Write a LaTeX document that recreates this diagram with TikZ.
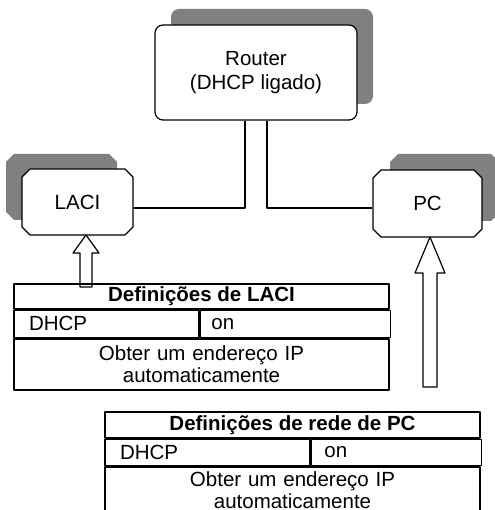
\documentclass[tikz,border=0pt]{standalone}
\usepackage{fontspec}
\setmainfont{Liberation Sans}
\usetikzlibrary{shapes.misc,shadows}

\begin{document}
\begin{tikzpicture}[x=1pt,y=-1pt,line join=round,
  font=\fontsize{20.5}{22}\selectfont,
  box/.style={draw,fill=white,line width=1.2pt,align=center},
  router/.style={box,rounded corners=8pt},
  device/.style={box,chamfered rectangle,chamfered rectangle xsep=4pt,chamfered rectangle ysep=4pt},
  cell/.style={draw,line width=1.4pt,inner ysep=0pt},
  hollow/.style={draw,fill=white,line width=1.2pt},
  wire/.style={line width=1.2pt}]

\useasboundingbox (0,0) rectangle (494,510);

\node[router,minimum width=202pt,minimum height=95pt,
  general shadow={fill=black!50,shadow xshift=16pt,shadow yshift=16pt}]
  (router) at (256,72.5) {Router\\[2pt](DHCP ligado)};
\node[device,minimum width=111pt,minimum height=66pt,
  general shadow={fill=black!50,shadow xshift=-16pt,shadow yshift=15pt}]
  (laci) at (77.5,202) {LACI};
\node[device,minimum width=109pt,minimum height=67pt,
  general shadow={fill=black!50,shadow xshift=17pt,shadow yshift=16pt}]
  (pc) at (427.5,203.5) {PC};

% cabos
\coordinate (lbend) at (245,208);
\coordinate (rbend) at (267,208);
\draw[wire] (router.south -| lbend) -- (lbend) -- (laci.east |- lbend);
\draw[wire] (router.south -| rbend) -- (rbend) -- (pc.west |- rbend);

% setas
\coordinate (ltip) at (86,235);
\coordinate (ptip) at (430,237);
\draw[hollow] (ltip) -- ++(13,18) -- ++(-7,0) -- ++(0,34) -- ++(-12,0)
  -- ++(0,-34) -- ++(-7,0) -- cycle;
\draw[hollow] (ptip) -- ++(15,36) -- ++(-8,0) -- ++(0,114) -- ++(-14,0)
  -- ++(0,-114) -- ++(-8,0) -- cycle;

% definicoes de LACI
\node[cell,minimum width=375pt,minimum height=25pt] (lacihead) at (201.5,296.5)
  {\bfseries Definições de LACI};
\node[cell,anchor=north west,minimum height=27pt,text width=155pt,inner xsep=15pt]
  (lacikey) at (lacihead.south west) {DHCP};
\node[cell,anchor=north west,minimum height=27pt,text width=168pt,inner xsep=11pt]
  (lacival) at (lacikey.north east) {on};
\node[cell,anchor=north west,minimum height=51pt,text width=355pt,inner xsep=10pt,align=center]
  (laciip) at (lacikey.south west) {Obter um endereço IP\\automaticamente};

% definicoes de rede de PC
\node[cell,minimum width=375pt,minimum height=26pt] (pchead) at (292.5,425)
  {\bfseries Definições de rede de PC};
\node[cell,anchor=north west,minimum height=26pt,text width=175pt,inner xsep=15pt]
  (pckey) at (pchead.south west) {DHCP};
\node[cell,anchor=north west,minimum height=26pt,text width=144pt,inner xsep=13pt]
  (pcval) at (pckey.north east) {on};
\node[cell,anchor=north west,minimum height=46pt,text width=355pt,inner xsep=10pt,align=center]
  (pcip) at (pckey.south west) {Obter um endereço IP\\automaticamente};

\end{tikzpicture}
\end{document}
